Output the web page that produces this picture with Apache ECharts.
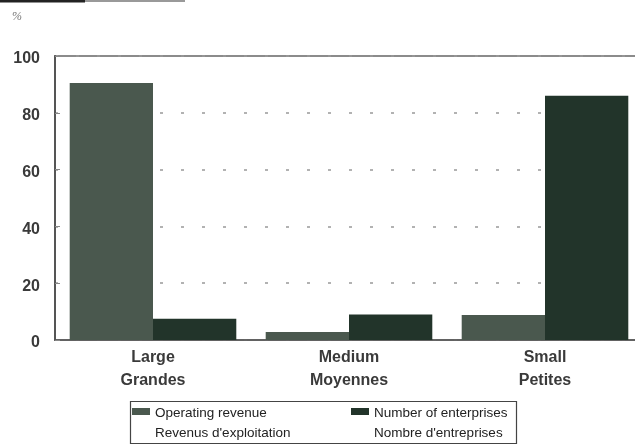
<!DOCTYPE html>
<html>
<head>
<meta charset="utf-8">
<script src="https://cdn.jsdelivr.net/npm/echarts@6/dist/echarts.min.js"></script>
<style>
html,body{margin:0;padding:0;background:#fff;}
#chart{width:635px;height:446px;}
</style>
</head>
<body>
<div id="chart"></div>
<script>
const categoriesEn = ['Large', 'Medium', 'Small'];
const categoriesFr = ['Grandes', 'Moyennes', 'Petites'];
const operatingRevenue = [90.5, 2.8, 8.8];
const numberEnterprises = [7.5, 9, 86];
const seriesNames = ["Operating revenue\nRevenus d'exploitation", "Number of enterprises\nNombre d'entreprises"];
const yTicks = [0, 20, 40, 60, 80, 100];

const iconPath = 'path://M0,0M0,5L18,5L18,12L0,12ZM18,40';

const chart = echarts.init(document.getElementById('chart'));
chart.setOption({
  backgroundColor: '#fff',
  animation: false,
  grid: {
    left: 55, width: 588, top: 56, height: 284,
    outerBoundsMode: 'none',
    containLabel: false,
    show: true, borderColor: '#666', borderWidth: 1.5
  },
  xAxis: {
    type: 'category',
    data: categoriesEn,
    axisLine: { lineStyle: { color: '#555', width: 1.5 } },
    axisTick: { show: false },
    axisLabel: {
      margin: 6,
      lineHeight: 23,
      fontFamily: 'Liberation Sans',
      fontWeight: 'bold',
      fontSize: 16,
      color: '#3a3a3a',
      formatter: (v, i) => v + '\n' + categoriesFr[i]
    }
  },
  yAxis: {
    type: 'value',
    min: yTicks[0], max: yTicks[yTicks.length - 1], interval: 20,
    axisLine: { show: true, lineStyle: { color: '#555', width: 2 } },
    axisTick: { show: true, inside: true, length: 5, lineStyle: { color: '#888' } },
    axisLabel: {
      margin: 15,
      fontFamily: 'Liberation Sans',
      fontWeight: 'bold',
      fontSize: 16,
      color: '#3a3a3a',
      verticalAlign: 'top',
      lineHeight: 6
    },
    splitLine: { show: true, lineStyle: { color: '#999', width: 1.5, type: [3, 18] } }
  },
  legend: {
    left: 128, top: 403,
    padding: [0, 0, 0, 4],
    itemGap: 20,
    itemWidth: 18, itemHeight: 40,
    textStyle: { fontFamily: 'Liberation Sans', fontSize: 13.5, color: '#222', lineHeight: 20 },
    data: [
      { name: seriesNames[0], icon: iconPath, textStyle: { width: 176 } },
      { name: seriesNames[1], icon: iconPath }
    ]
  },
  graphic: [
    { type: 'rect', left: 128, top: 399, shape: { width: 386, height: 42 },
      style: { fill: 'none', stroke: '#444', lineWidth: 1.2 }, silent: true },
    { type: 'text', left: 12, top: 11,
      style: { text: '%', fontFamily: 'Liberation Serif', fontStyle: 'italic', fontSize: 12, fill: '#777' } },
    { type: 'line', shape: { x1: 0, y1: 1, x2: 85, y2: 1 }, style: { stroke: '#222', lineWidth: 3 } },
    { type: 'line', shape: { x1: 85, y1: 1, x2: 185, y2: 1 }, style: { stroke: '#999', lineWidth: 2 } }
  ],
  series: [
    {
      name: seriesNames[0], type: 'bar', data: operatingRevenue,
      barGap: '0%', barCategoryGap: '15%',
      itemStyle: { color: '#4a584e' }
    },
    {
      name: seriesNames[1], type: 'bar', data: numberEnterprises,
      itemStyle: { color: '#22342a' }
    }
  ]
});
</script>
</body>
</html>
